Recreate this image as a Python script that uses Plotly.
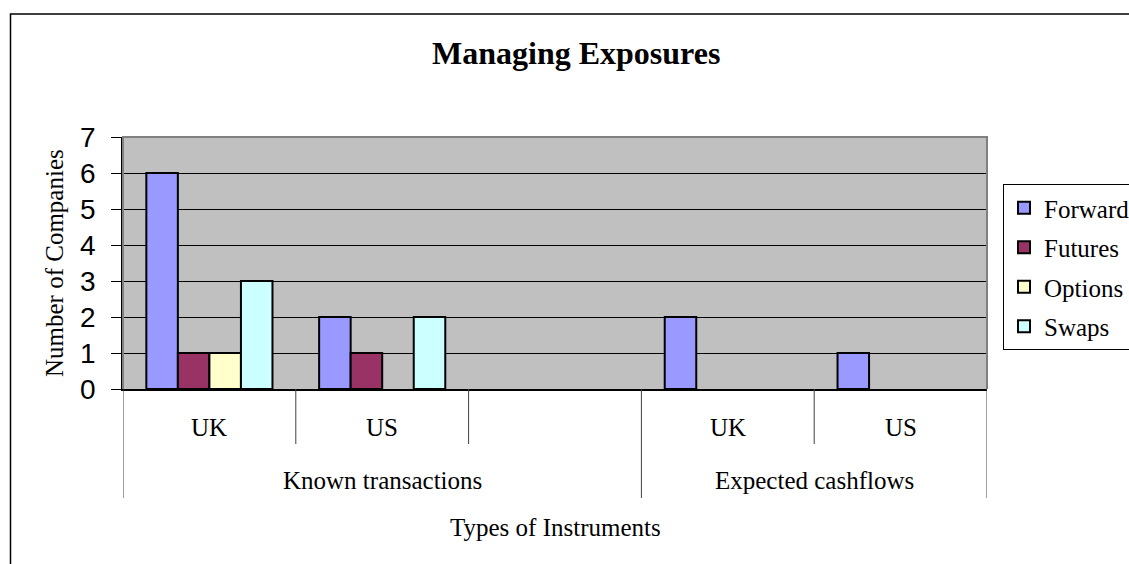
import plotly.graph_objects as go

# Category axis: outer group and inner region for each slot
groups = ["Known transactions", "Known transactions", "Known transactions",
          "Expected cashflows", "Expected cashflows"]
regions = ["UK", "US", "", "UK", "US"]

# Number of companies using each instrument (None = no entry)
forward = [6, 2, None, 2, 1]
futures = [1, 1, None, None, None]
options = [1, None, None, None, None]
swaps = [3, 2, None, None, None]

series_names = ["Forward", "Futures", "Options", "Swaps"]
series_values = [forward, futures, options, swaps]
series_colors = ["#9999FF", "#993366", "#FFFFCC", "#CCFFFF"]

SERIF = "Liberation Serif"
SANS = "Liberation Sans"

x_pos = list(range(len(regions)))

fig = go.Figure()
for name, vals, col in zip(series_names, series_values, series_colors):
    fig.add_trace(go.Bar(
        x=x_pos, y=vals, name=name, legendgroup=name,
        marker=dict(color=col, line=dict(color="black", width=2)),
    ))

# plot area geometry in pixels (for converting label offsets to paper units)
W, H = 1129, 564
L, R, T, B = 123, 142, 137, 175
plot_h = H - T - B
plot_w = W - L - R


def py(pix):
    """Convert a pixel row to paper y."""
    return (H - B - pix) / plot_h


def px(pix):
    """Convert a pixel column to paper x."""
    return (pix - L) / plot_w


shapes = []
annotations = []

# gray frame around the plot area (top, left edge, right edge)
shapes.append(dict(type="path", xref="paper", yref="paper",
                   path="M 0,0 L 0,1 L 1,1 L 1,0",
                   line=dict(color="#808080", width=2), layer="above"))

# category dividers below the axis
n = len(regions)
short_y = py(444)
long_y = py(498)
for i in range(n + 1):
    xb = i - 0.5
    if i == 0 or i == n or groups[i - 1] != groups[i]:
        y1 = long_y
    else:
        y1 = short_y
    shapes.append(dict(type="line", xref="x", yref="paper",
                       x0=xb, x1=xb, y0=0, y1=y1,
                       line=dict(color="#404040", width=1)))

# inner (region) labels
for i, lab in enumerate(regions):
    if lab:
        annotations.append(dict(x=i, y=py(427), xref="x", yref="paper",
                                text=lab, showarrow=False, yanchor="middle",
                                font=dict(family=SERIF, size=25, color="black")))

# outer (group) labels centred over their span
start = 0
for i in range(1, n + 1):
    if i == n or groups[i] != groups[start]:
        annotations.append(dict(x=(start + i - 1) / 2, y=py(480), xref="x", yref="paper",
                                text=groups[start], showarrow=False, yanchor="middle",
                                font=dict(family=SERIF, size=25, color="black")))
        start = i

# axis titles and chart title
annotations.append(dict(x=0.5, y=py(527), xref="paper", yref="paper",
                        text="Types of Instruments", showarrow=False, yanchor="middle",
                        font=dict(family=SERIF, size=25, color="black")))
annotations.append(dict(x=px(54), y=0.5, xref="paper", yref="paper",
                        text="Number of Companies", showarrow=False, textangle=-90,
                        xanchor="center", yanchor="middle",
                        font=dict(family=SERIF, size=25, color="black")))
annotations.append(dict(x=px(576), y=py(53), xref="paper", yref="paper",
                        text="<b>Managing Exposures</b>", showarrow=False,
                        xanchor="center", yanchor="middle",
                        font=dict(family=SERIF, size=32, color="black")))

# outer chart border
shapes.append(dict(type="rect", xref="paper", yref="paper",
                   x0=px(10.5), y0=py(600), x1=px(1140), y1=py(14),
                   line=dict(color="black", width=1.5), layer="below"))

fig.update_layout(
    width=W, height=H,
    margin=dict(l=L, r=R, t=T, b=B, autoexpand=False),
    font=dict(family=SERIF, color="black"),
    paper_bgcolor="white",
    plot_bgcolor="#C0C0C0",
    barmode="group",
    bargap=0.27,
    bargroupgap=0,
    showlegend=True,
    legend=dict(x=px(1003), y=py(184), xanchor="left", yanchor="top",
                font=dict(family=SERIF, size=25, color="black"),
                bordercolor="black", borderwidth=1, bgcolor="white",
                traceorder="grouped", tracegroupgap=4),
    xaxis=dict(range=[-0.5, n - 0.5], showgrid=False, zeroline=False,
               showticklabels=False, ticks="", showline=True,
               linecolor="black", linewidth=1.5),
    yaxis=dict(range=[0, 7], dtick=1, showgrid=True, gridcolor="black",
               gridwidth=1, zeroline=False, showline=True, linecolor="black",
               linewidth=1.5, ticks="outside", ticklen=10, tickcolor="black",
               tickwidth=1, ticklabelstandoff=10,
               tickfont=dict(family=SANS, size=28, color="black")),
    shapes=shapes,
    annotations=annotations,
)

fig.write_html("out.html")
